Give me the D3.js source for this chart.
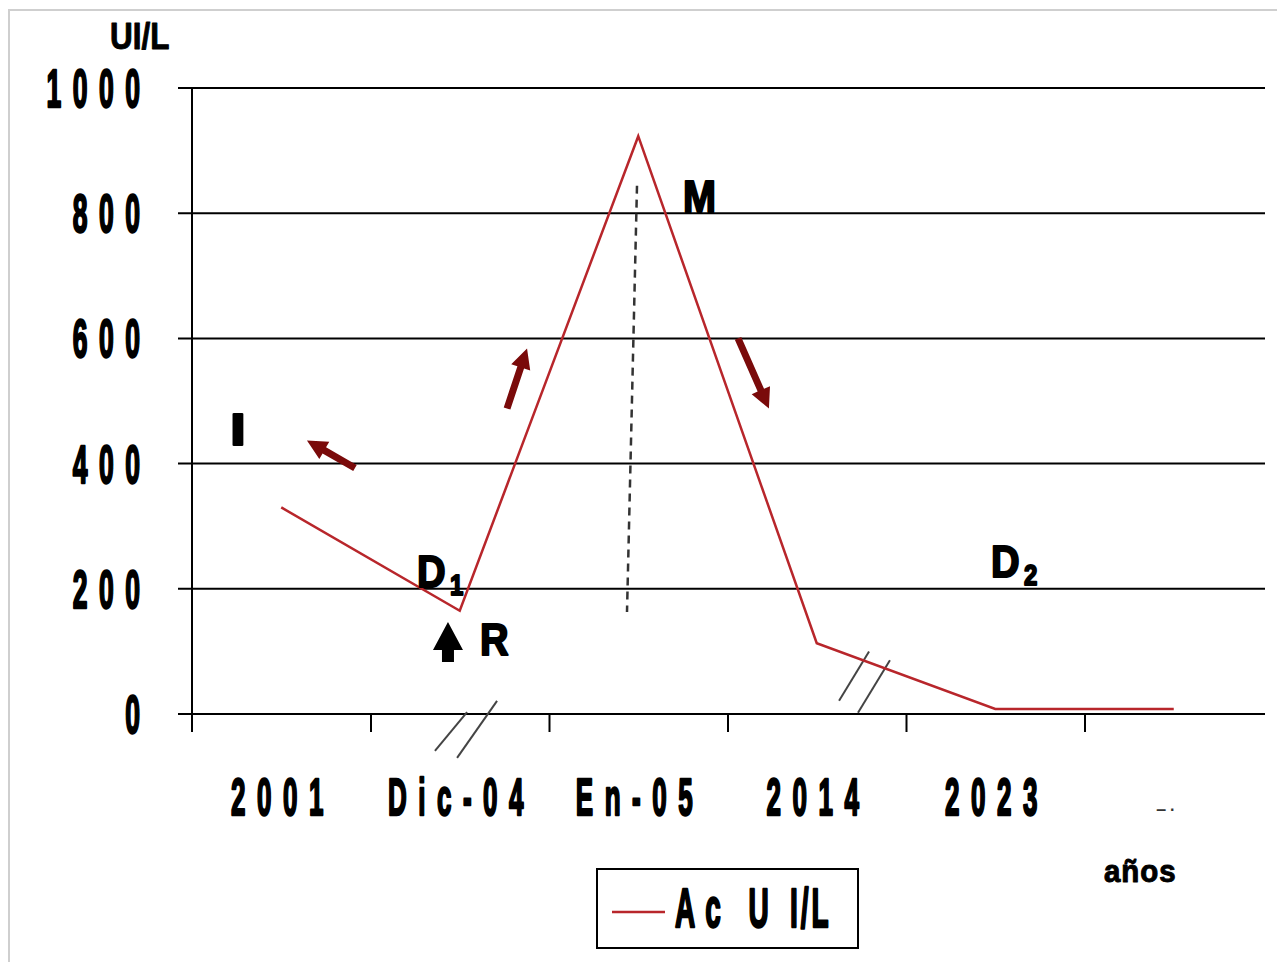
<!DOCTYPE html>
<html><head><meta charset="utf-8">
<script src="https://cdn.jsdelivr.net/npm/d3@7/dist/d3.min.js"></script>
<style>body{margin:0;background:#fff}svg{display:block}</style>
</head><body>
<svg id="c" width="1277" height="962"></svg>
<script>
// ---- data ----
const categories = ["2001", "Dic-04", "En-05", "2014", "2023", ""];
const values = [330, 165, 923, 113, 8, 8];
const yTicks = [0, 200, 400, 600, 800, 1000];
const seriesName = "Ac U I/L";
const yTitle = "UI/L";
const xTitle = "años";
// annotations in (category position, value)
const redArrows = [
  {from: [0.413, 393], to: [0.144, 437]},
  {from: [1.265, 488], to: [1.377, 584]},
  {from: [2.559, 600], to: [2.732, 488]}
];
const blackArrow = {from: [0.934, 83], to: [0.934, 147]};
const dashedLine = {from: [1.993, 844], to: [1.937, 163]};
const breakMarks = [
  [[0.861, -59], [1.041, 3]], [[0.985, -70], [1.209, 21]],
  [[3.125, 21], [3.293, 100]], [[3.231, 2], [3.410, 86]]
];
const labels = [
  {t: "I", c: -0.254, v: 456},
  {t: "M", c: 2.335, v: 827},
  {t: "D", sub: "1", c: 0.845, v: 228},
  {t: "R", c: 1.197, v: 120},
  {t: "D", sub: "2", c: 4.06, v: 244}
];

// ---- layout ----
const svg = d3.select("#c");
const L = 192, R = 1263, T = 88, B = 714;
const x = d3.scaleBand().domain(d3.range(categories.length)).range([L, R]);
const xl = d3.scaleLinear().domain([-0.5, categories.length - 0.5]).range([L, R]);
const y = d3.scaleLinear().domain([0, 1000]).range([B, T]);
const FONT = "'Liberation Sans', Arial, sans-serif";

// outer frame
svg.append("rect").attr("x", 9).attr("y", 10).attr("width", 1300).attr("height", 1000)
  .attr("fill", "none").attr("stroke", "#cfcfcf").attr("stroke-width", 2);

function sText(txt, px, py, o) {
  const sx = o.sx || 0.5, ls = o.ls || 0, anchor = o.anchor || "start";
  const shift = anchor === "middle" ? ls / 2 : anchor === "end" ? ls : 0;
  return svg.append("text")
    .attr("transform", `translate(${px},${py}) scale(${sx},1)`)
    .attr("x", shift).attr("y", 0)
    .attr("text-anchor", anchor)
    .attr("font-family", FONT).attr("font-weight", "bold")
    .attr("font-size", o.size).attr("letter-spacing", ls)
    .attr("fill", o.fill || "#000")
    .attr("stroke", o.fill || "#000").attr("stroke-width", o.sw == null ? 2.5 : o.sw)
    .attr("stroke-linejoin", "round")
    .text(txt);
}

// gridlines
svg.append("g").selectAll("line").data(yTicks).join("line")
  .attr("x1", L - 14).attr("x2", R + 2)
  .attr("y1", d => y(d)).attr("y2", d => y(d))
  .attr("stroke", "#000").attr("stroke-width", 2);
// y axis line
svg.append("line").attr("x1", L).attr("x2", L).attr("y1", y(1000)).attr("y2", B + 18)
  .attr("stroke", "#000").attr("stroke-width", 2);
// x axis ticks
const xAxis = d3.axisBottom(xl).tickValues(d3.range(0.5, categories.length - 0.5, 1))
  .tickSize(18).tickFormat("");
const gx = svg.append("g").attr("transform", `translate(0,${B})`).call(xAxis);
gx.select(".domain").remove();
gx.selectAll("line").attr("stroke", "#000").attr("stroke-width", 2);

// y tick labels
yTicks.forEach(t => sText(String(t), 140, y(t) + 19, {size: 53, sx: 0.5, ls: 23, anchor: "end"}));
// x tick labels
categories.forEach((c, i) => {
  if (c) sText(c, x(i) + x.bandwidth() / 2 - 4, 815, {size: 52, sx: 0.5, ls: 23, anchor: "middle"});
});
// remnant marks under the last category
svg.append("text").attr("x", 1166).attr("y", 815).attr("text-anchor", "middle")
  .attr("font-family", FONT).attr("font-weight", "bold").attr("font-size", 16)
  .attr("fill", "#333").text("‒  ·");

// axis titles
sText(yTitle, 110, 49, {size: 37, sx: 0.85, ls: 0, sw: 1});
sText(xTitle, 1104, 882, {size: 31, sx: 0.95, ls: 1, sw: 1});

// dashed vertical line
svg.append("line")
  .attr("x1", xl(dashedLine.from[0])).attr("y1", y(dashedLine.from[1]))
  .attr("x2", xl(dashedLine.to[0])).attr("y2", y(dashedLine.to[1]))
  .attr("stroke", "#333").attr("stroke-width", 2.5).attr("stroke-dasharray", "8,6");

// break marks
breakMarks.forEach(m => svg.append("line")
  .attr("x1", xl(m[0][0])).attr("y1", y(m[0][1]))
  .attr("x2", xl(m[1][0])).attr("y2", y(m[1][1]))
  .attr("stroke", "#444").attr("stroke-width", 2));

// series line
const line = d3.line().x((d, i) => x(i) + x.bandwidth() / 2).y(d => y(d));
svg.append("path").datum(values).attr("d", line)
  .attr("fill", "none").attr("stroke", "#b8262b").attr("stroke-width", 2.5);

// arrows
function arrow(a, col, shaftW, headW, headL) {
  const x1 = xl(a.from[0]), y1 = y(a.from[1]), x2 = xl(a.to[0]), y2 = y(a.to[1]);
  const dx = x2 - x1, dy = y2 - y1, len = Math.hypot(dx, dy);
  const ux = dx / len, uy = dy / len, nx = -uy, ny = ux;
  const bx = x2 - ux * headL, by = y2 - uy * headL;
  const pts = [
    [x1 + nx * shaftW / 2, y1 + ny * shaftW / 2],
    [bx + nx * shaftW / 2, by + ny * shaftW / 2],
    [bx + nx * headW / 2, by + ny * headW / 2],
    [x2, y2],
    [bx - nx * headW / 2, by - ny * headW / 2],
    [bx - nx * shaftW / 2, by - ny * shaftW / 2],
    [x1 - nx * shaftW / 2, y1 - ny * shaftW / 2]
  ];
  svg.append("polygon").attr("points", pts.map(p => p.join(",")).join(" ")).attr("fill", col);
}
redArrows.forEach(a => arrow(a, "#7a0a0a", 7, 20, 20));
arrow(blackArrow, "#000", 12, 30, 28);

// annotation labels
labels.forEach(l => {
  const px = xl(l.c), py = y(l.v);
  sText(l.t, px - (l.t === "I" ? 6 : 15), py + 16, {size: 44, sx: l.t === "I" ? 1.3 : 0.9, ls: 0, sw: 2});
  if (l.sub) sText(l.sub, px + 18, py + 24, {size: 30, sx: 0.8, ls: 0, sw: 2});
});

// legend
svg.append("rect").attr("x", 597).attr("y", 869).attr("width", 261).attr("height", 79)
  .attr("fill", "#fff").attr("stroke", "#000").attr("stroke-width", 2);
svg.append("line").attr("x1", 612).attr("x2", 665).attr("y1", 912).attr("y2", 912)
  .attr("stroke", "#b8262b").attr("stroke-width", 2.5);
const parts = seriesName.split(" ");
sText(parts[0] + " " + parts[1], 675, 927, {size: 56, sx: 0.5, ls: 20});
sText(parts.slice(2).join(" "), 790, 927, {size: 56, sx: 0.5, ls: 6});
</script>
</body></html>
